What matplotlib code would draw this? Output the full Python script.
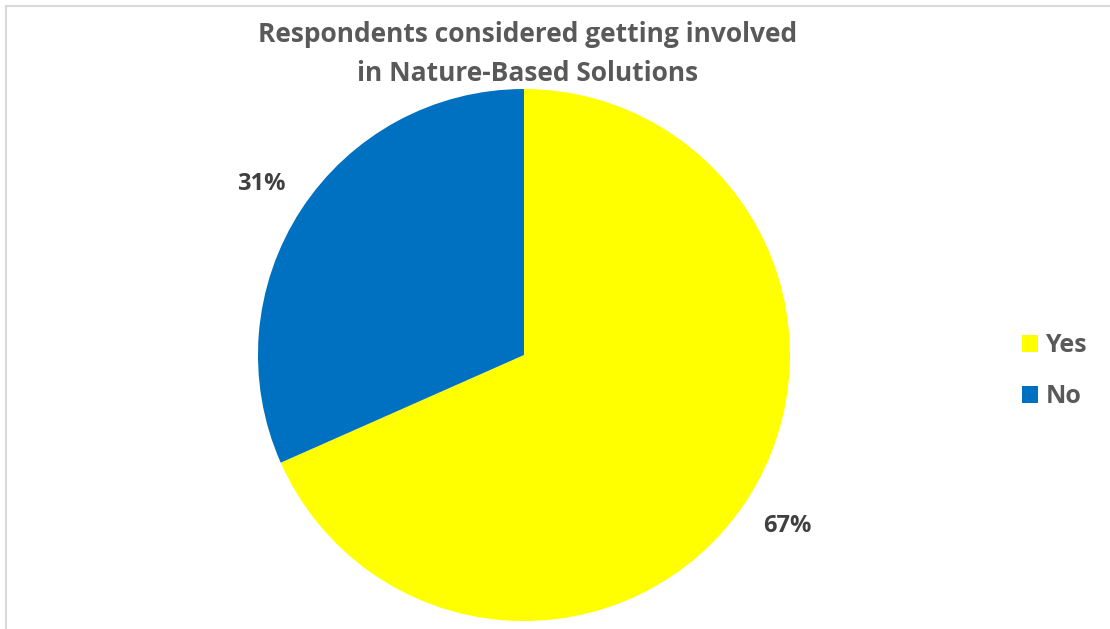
import matplotlib
matplotlib.use('Agg')
import matplotlib.pyplot as plt
from matplotlib.patches import Rectangle

# data
categories = ['Yes', 'No']
values = [67, 31]
colors = ['#FFFF00', '#0070C0']
title = 'Respondents considered getting involved\nin Nature-Based Solutions'

plt.rcParams['font.family'] = ['Open Sans', 'DejaVu Sans']
text_grey = '#595959'

fig = plt.figure(figsize=(11.1, 6.29), dpi=100)

# thin light border like the office chart frame
fig.patches.append(Rectangle((6 / 1110, -0.01), 1.1, 1 - 6 / 629 + 0.01,
                             transform=fig.transFigure, fill=False,
                             edgecolor='#D9D9D9', linewidth=1.5))

ax = fig.add_axes([0.2324, 0.0127, 0.4793, 0.8458])
total = sum(values)
wedges, _, autotexts = ax.pie(
    values, colors=colors, startangle=90, counterclock=False,
    autopct=lambda p: f'{p * total / 100:.0f}%', pctdistance=1.18,
    wedgeprops=dict(linewidth=0), textprops=dict(fontsize=17, fontweight='bold', color='#404040'))
ax.set_xlim(-1, 1)
ax.set_ylim(-1, 1)
ax.set_aspect('equal')

fig.text(0.475, 0.966, title, ha='center', va='top', fontsize=19,
         fontweight='bold', color=text_grey, linespacing=1.55)

leg = fig.legend(wedges, categories, loc='center left', bbox_to_anchor=(0.9, 0.41),
                 frameon=False, fontsize=18, handlelength=0.65, handleheight=0.65,
                 handletextpad=0.3, labelspacing=1.05)
for t in leg.get_texts():
    t.set_color(text_grey)
    t.set_fontweight('bold')

fig.savefig('out.png', dpi=100)
